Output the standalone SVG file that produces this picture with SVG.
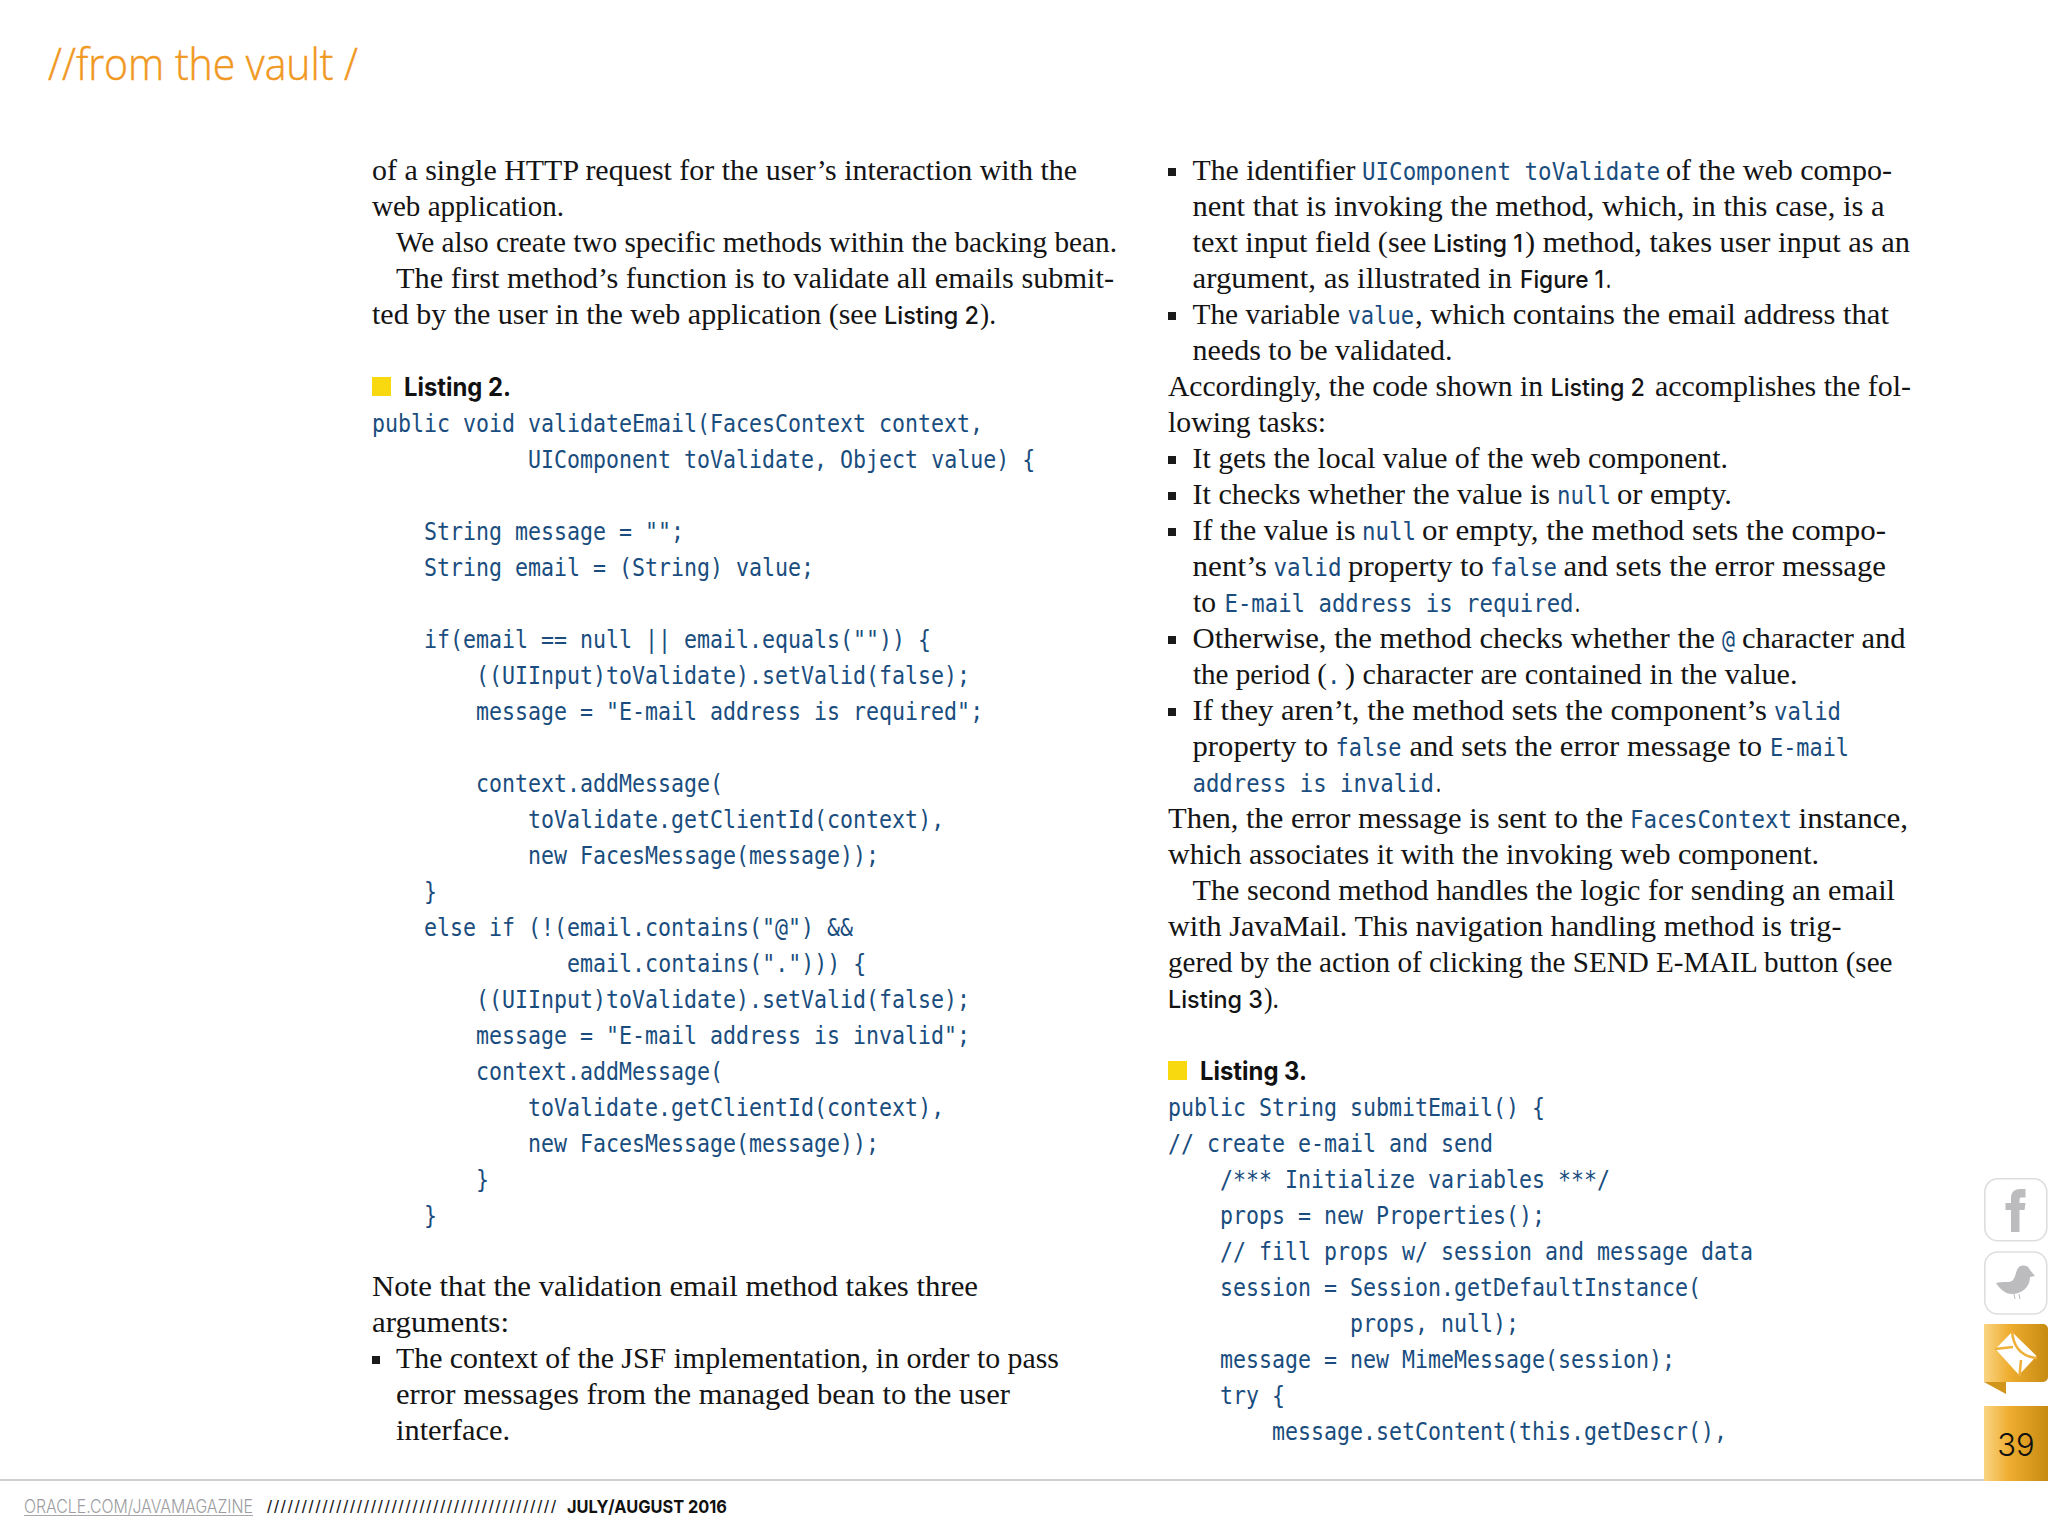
<svg xmlns="http://www.w3.org/2000/svg" width="2048" height="1536" viewBox="0 0 2048 1536">
<style>
text{white-space:pre}
.b{font-family:"Liberation Serif",serif;font-size:30px;fill:#141414}
.c{font-family:"DejaVu Sans Mono",monospace;font-size:24px;fill:#1a4d7e}
.s{font-family:Inter,Roboto,"Liberation Sans",sans-serif;font-size:24px;font-weight:500;fill:#141414}
.h{font-family:Inter,Roboto,"Liberation Sans",sans-serif;font-size:25px;font-weight:700;fill:#111}
.sq{fill:#f8d90f}
.bu{fill:#1a1a1a}
.box{fill:#fff;stroke:#dedee0;stroke-width:1.6}
.ic{fill:#bcbcbf}
</style>
<defs>
<linearGradient id="g"><stop offset="0" stop-color="#fad483"/><stop offset=".4" stop-color="#eead2f"/><stop offset="1" stop-color="#c78a12"/></linearGradient>
</defs>
<rect width="2048" height="1536" fill="#fff"/>
<text x="48" y="80" font-family="'Open Sans',sans-serif" font-weight="300" font-size="45" fill="#f0981f" stroke="#f0981f" stroke-width=".5" textLength="310" lengthAdjust="spacingAndGlyphs">//from the vault /</text>

<g id="left-body">
<text class="b" x="372" y="180" textLength="705" lengthAdjust="spacingAndGlyphs">of a single HTTP request for the user’s interaction with the</text>
<text class="b" x="372" y="216" textLength="192" lengthAdjust="spacingAndGlyphs">web application.</text>
<text class="b" x="396" y="252" textLength="721" lengthAdjust="spacingAndGlyphs">We also create two specific methods within the backing bean.</text>
<text class="b" x="396" y="288" textLength="718" lengthAdjust="spacingAndGlyphs">The first method’s function is to validate all emails submit-</text>
<text class="b" x="372" y="324" textLength="505" lengthAdjust="spacingAndGlyphs">ted by the user in the web application (see</text>
<text class="s" x="884" y="324" textLength="95" lengthAdjust="spacingAndGlyphs">Listing 2</text>
<text class="b" x="980" y="324" textLength="16" lengthAdjust="spacingAndGlyphs">).</text>
<rect class="sq" x="372" y="377" width="19" height="19"/>
<text class="h" x="404" y="396" textLength="107" lengthAdjust="spacingAndGlyphs">Listing 2.</text>
<text class="b" x="372" y="1296" textLength="606" lengthAdjust="spacingAndGlyphs">Note that the validation email method takes three</text>
<text class="b" x="372" y="1332" textLength="137" lengthAdjust="spacingAndGlyphs">arguments:</text>
<rect class="bu" x="372" y="1356" width="8" height="8"/>
<text class="b" x="396" y="1368" textLength="663" lengthAdjust="spacingAndGlyphs">The context of the JSF implementation, in order to pass</text>
<text class="b" x="396" y="1404" textLength="614" lengthAdjust="spacingAndGlyphs">error messages from the managed bean to the user</text>
<text class="b" x="396" y="1440" textLength="114" lengthAdjust="spacingAndGlyphs">interface.</text>
</g>

<g id="listing-2" transform="translate(372 0) scale(.9 1)">
<text class="c" x="0" y="432">public void validateEmail(FacesContext context,</text>
<text class="c" x="173.4" y="468">UIComponent toValidate, Object value) {</text>
<text class="c" x="57.8" y="540">String message = "";</text>
<text class="c" x="57.8" y="576">String email = (String) value;</text>
<text class="c" x="57.8" y="648">if(email == null || email.equals("")) {</text>
<text class="c" x="115.6" y="684">((UIInput)toValidate).setValid(false);</text>
<text class="c" x="115.6" y="720">message = "E-mail address is required";</text>
<text class="c" x="115.6" y="792">context.addMessage(</text>
<text class="c" x="173.4" y="828">toValidate.getClientId(context),</text>
<text class="c" x="173.4" y="864">new FacesMessage(message));</text>
<text class="c" x="57.8" y="900">}</text>
<text class="c" x="57.8" y="936">else if (!(email.contains("@") &amp;&amp;</text>
<text class="c" x="216.8" y="972">email.contains("."))) {</text>
<text class="c" x="115.6" y="1008">((UIInput)toValidate).setValid(false);</text>
<text class="c" x="115.6" y="1044">message = "E-mail address is invalid";</text>
<text class="c" x="115.6" y="1080">context.addMessage(</text>
<text class="c" x="173.4" y="1116">toValidate.getClientId(context),</text>
<text class="c" x="173.4" y="1152">new FacesMessage(message));</text>
<text class="c" x="115.6" y="1188">}</text>
<text class="c" x="57.8" y="1224">}</text>
</g>

<g id="right-body">
<rect class="bu" x="1168" y="168" width="8" height="8"/>
<text class="b" x="1192.5" y="180" textLength="163" lengthAdjust="spacingAndGlyphs">The identifier</text>
<text class="c" x="1362" y="180" textLength="298" lengthAdjust="spacingAndGlyphs">UIComponent toValidate</text>
<text class="b" x="1666" y="180" textLength="226" lengthAdjust="spacingAndGlyphs">of the web compo-</text>
<text class="b" x="1192.5" y="216" textLength="692" lengthAdjust="spacingAndGlyphs">nent that is invoking the method, which, in this case, is a</text>
<text class="b" x="1192.5" y="252" textLength="234" lengthAdjust="spacingAndGlyphs">text input field (see</text>
<text class="s" x="1433" y="252" textLength="90" lengthAdjust="spacingAndGlyphs">Listing 1</text>
<text class="b" x="1525" y="252" textLength="385" lengthAdjust="spacingAndGlyphs">) method, takes user input as an</text>
<text class="b" x="1192.5" y="288" textLength="319.5" lengthAdjust="spacingAndGlyphs">argument, as illustrated in</text>
<text class="s" x="1520" y="288" textLength="84" lengthAdjust="spacingAndGlyphs">Figure 1</text>
<text class="b" x="1606" y="288" textLength="5" lengthAdjust="spacingAndGlyphs">.</text>
<rect class="bu" x="1168" y="312" width="8" height="8"/>
<text class="b" x="1192.5" y="324" textLength="147.5" lengthAdjust="spacingAndGlyphs">The variable</text>
<text class="c" x="1347.5" y="324" textLength="66.5" lengthAdjust="spacingAndGlyphs">value</text>
<text class="b" x="1415" y="324" textLength="474" lengthAdjust="spacingAndGlyphs">, which contains the email address that</text>
<text class="b" x="1192.5" y="360" textLength="260" lengthAdjust="spacingAndGlyphs">needs to be validated.</text>
<text class="b" x="1168" y="396" textLength="375" lengthAdjust="spacingAndGlyphs">Accordingly, the code shown in</text>
<text class="s" x="1550.5" y="396" textLength="94.5" lengthAdjust="spacingAndGlyphs">Listing 2</text>
<text class="b" x="1655" y="396" textLength="256" lengthAdjust="spacingAndGlyphs">accomplishes the fol-</text>
<text class="b" x="1168" y="432" textLength="158" lengthAdjust="spacingAndGlyphs">lowing tasks:</text>
<rect class="bu" x="1168" y="456" width="8" height="8"/>
<text class="b" x="1192.5" y="468" textLength="535.5" lengthAdjust="spacingAndGlyphs">It gets the local value of the web component.</text>
<rect class="bu" x="1168" y="492" width="8" height="8"/>
<text class="b" x="1192.5" y="504" textLength="357.5" lengthAdjust="spacingAndGlyphs">It checks whether the value is</text>
<text class="c" x="1557" y="504" textLength="54" lengthAdjust="spacingAndGlyphs">null</text>
<text class="b" x="1617" y="504" textLength="115" lengthAdjust="spacingAndGlyphs">or empty.</text>
<rect class="bu" x="1168" y="528" width="8" height="8"/>
<text class="b" x="1192.5" y="540" textLength="163" lengthAdjust="spacingAndGlyphs">If the value is</text>
<text class="c" x="1362" y="540" textLength="54" lengthAdjust="spacingAndGlyphs">null</text>
<text class="b" x="1422" y="540" textLength="464" lengthAdjust="spacingAndGlyphs">or empty, the method sets the compo-</text>
<text class="b" x="1192.5" y="576" textLength="74.5" lengthAdjust="spacingAndGlyphs">nent’s</text>
<text class="c" x="1273.5" y="576" textLength="68" lengthAdjust="spacingAndGlyphs">valid</text>
<text class="b" x="1348" y="576" textLength="136" lengthAdjust="spacingAndGlyphs">property to</text>
<text class="c" x="1490" y="576" textLength="67" lengthAdjust="spacingAndGlyphs">false</text>
<text class="b" x="1563.5" y="576" textLength="322.5" lengthAdjust="spacingAndGlyphs">and sets the error message</text>
<text class="b" x="1193" y="612" textLength="23" lengthAdjust="spacingAndGlyphs">to</text>
<text class="c" x="1224.5" y="612" textLength="349" lengthAdjust="spacingAndGlyphs">E-mail address is required</text>
<text class="b" x="1575" y="612" textLength="5" lengthAdjust="spacingAndGlyphs">.</text>
<rect class="bu" x="1168" y="636" width="8" height="8"/>
<text class="b" x="1192.5" y="648" textLength="522.5" lengthAdjust="spacingAndGlyphs">Otherwise, the method checks whether the</text>
<text class="c" x="1722" y="648" textLength="13" lengthAdjust="spacingAndGlyphs">@</text>
<text class="b" x="1742" y="648" textLength="163.5" lengthAdjust="spacingAndGlyphs">character and</text>
<text class="b" x="1193" y="684" textLength="134" lengthAdjust="spacingAndGlyphs">the period (</text>
<text class="c" x="1327" y="684" textLength="13.5" lengthAdjust="spacingAndGlyphs">.</text>
<text class="b" x="1345" y="684" textLength="452.500" lengthAdjust="spacingAndGlyphs">) character are contained in the value.</text>
<rect class="bu" x="1168" y="708" width="8" height="8"/>
<text class="b" x="1192.5" y="720" textLength="574.5" lengthAdjust="spacingAndGlyphs">If they aren’t, the method sets the component’s</text>
<text class="c" x="1774" y="720" textLength="67" lengthAdjust="spacingAndGlyphs">valid</text>
<text class="b" x="1192.5" y="756" textLength="135.5" lengthAdjust="spacingAndGlyphs">property to</text>
<text class="c" x="1335.5" y="756" textLength="66" lengthAdjust="spacingAndGlyphs">false</text>
<text class="b" x="1409.5" y="756" textLength="352.5" lengthAdjust="spacingAndGlyphs">and sets the error message to</text>
<text class="c" x="1770" y="756" textLength="79" lengthAdjust="spacingAndGlyphs">E-mail</text>
<text class="c" x="1192.5" y="792" textLength="241.5" lengthAdjust="spacingAndGlyphs">address is invalid</text>
<text class="b" x="1436" y="792" textLength="5" lengthAdjust="spacingAndGlyphs">.</text>
<text class="b" x="1168" y="828" textLength="455" lengthAdjust="spacingAndGlyphs">Then, the error message is sent to the</text>
<text class="c" x="1630" y="828" textLength="162" lengthAdjust="spacingAndGlyphs">FacesContext</text>
<text class="b" x="1798.5" y="828" textLength="109.5" lengthAdjust="spacingAndGlyphs">instance,</text>
<text class="b" x="1168" y="864" textLength="651" lengthAdjust="spacingAndGlyphs">which associates it with the invoking web component.</text>
<text class="b" x="1192.5" y="900" textLength="702.5" lengthAdjust="spacingAndGlyphs">The second method handles the logic for sending an email</text>
<text class="b" x="1168" y="936" textLength="673.5" lengthAdjust="spacingAndGlyphs">with JavaMail. This navigation handling method is trig-</text>
<text class="b" x="1168" y="972" textLength="724.5" lengthAdjust="spacingAndGlyphs">gered by the action of clicking the SEND E-MAIL button (see</text>
<text class="s" x="1168" y="1008" textLength="95" lengthAdjust="spacingAndGlyphs">Listing 3</text>
<text class="b" x="1264" y="1008" textLength="15" lengthAdjust="spacingAndGlyphs">).</text>
<rect class="sq" x="1168" y="1061" width="19" height="19"/>
<text class="h" x="1200" y="1080" textLength="107" lengthAdjust="spacingAndGlyphs">Listing 3.</text>
</g>

<g id="listing-3" transform="translate(1168 0) scale(.9 1)">
<text class="c" x="0" y="1116">public String submitEmail() {</text>
<text class="c" x="0" y="1152">// create e-mail and send</text>
<text class="c" x="57.8" y="1188">/*** Initialize variables ***/</text>
<text class="c" x="57.8" y="1224">props = new Properties();</text>
<text class="c" x="57.8" y="1260">// fill props w/ session and message data</text>
<text class="c" x="57.8" y="1296">session = Session.getDefaultInstance(</text>
<text class="c" x="202.3" y="1332">props, null);</text>
<text class="c" x="57.8" y="1368">message = new MimeMessage(session);</text>
<text class="c" x="57.8" y="1404">try {</text>
<text class="c" x="115.6" y="1440">message.setContent(this.getDescr(),</text>
</g>

<g id="icon-facebook">
<rect class="box" x="1984.8" y="1178.8" width="62" height="62" rx="13"/>
<path class="ic" d="M2011 1232V1210H2005.500V1203H2011V1198C2011 1192 2015 1189 2020 1189H2025.500V1197.500H2022C2020 1197.500 2019.500 1198 2019.500 1200V1203H2025.500L2024.500 1210H2019.500V1232Z"/>
</g>
<g id="icon-twitter">
<rect class="box" x="1984.8" y="1252" width="62" height="62" rx="13"/>
<path class="ic" d="M1996 1283C2003 1281 2008 1283 2012 1281C2015 1279 2016 1272 2017 1270A7 7 0 0 1 2030 1270L2035 1276L2030 1277C2030 1287 2022 1294 2012 1294C2005 1294 2000 1289 1996 1283Z"/>
<path d="M2014 1294L2015 1299M2019 1294L2020 1299" stroke="#bcbcbf" fill="none"/>
</g>
<g id="icon-mail">
<path fill="url(#g)" d="M1984 1324H2043A5 5 0 0 1 2048 1329V1377A5 5 0 0 1 2043 1382H1984Z"/>
<path fill="#d2951c" d="M1984 1382H2006V1394Z"/>
<path fill="#fff" d="M2012 1332L2036.500 1356L2019 1375L1995.500 1349Z"/>
<path fill="none" stroke="#efb03a" stroke-width="2.600" d="M2012 1331Q2014 1356 2037 1358M1995 1349L2013 1347M2019.500 1376L2021 1360"/>
</g>
<g id="page-tab">
<rect fill="url(#g)" x="1984" y="1406" width="64" height="75"/>
<text x="2016" y="1456" text-anchor="middle" font-family="Inter,Roboto,'Liberation Sans',sans-serif" font-weight="300" font-size="31" fill="#111">39</text>
</g>

<g id="footer">
<rect x="0" y="1479" width="1984" height="2" fill="#d0ced2"/>
<text x="24" y="1513" font-family="Inter,Roboto,'Liberation Sans',sans-serif" font-weight="300" font-size="18" fill="#9d9da1" textLength="229" lengthAdjust="spacingAndGlyphs">ORACLE.COM/JAVAMAGAZINE</text>
<rect x="24" y="1515" width="229" height="1" fill="#a8a8ac"/>
<text x="267" y="1513" font-family="'Liberation Sans',sans-serif" font-size="18" fill="#1a1a1a" textLength="289" lengthAdjust="spacing">//////////////////////////////////////////</text>
<text x="567" y="1513" font-family="Inter,Roboto,'Liberation Sans',sans-serif" font-weight="700" font-size="18" fill="#111" textLength="160" lengthAdjust="spacingAndGlyphs">JULY/AUGUST 2016</text>
</g>
</svg>
